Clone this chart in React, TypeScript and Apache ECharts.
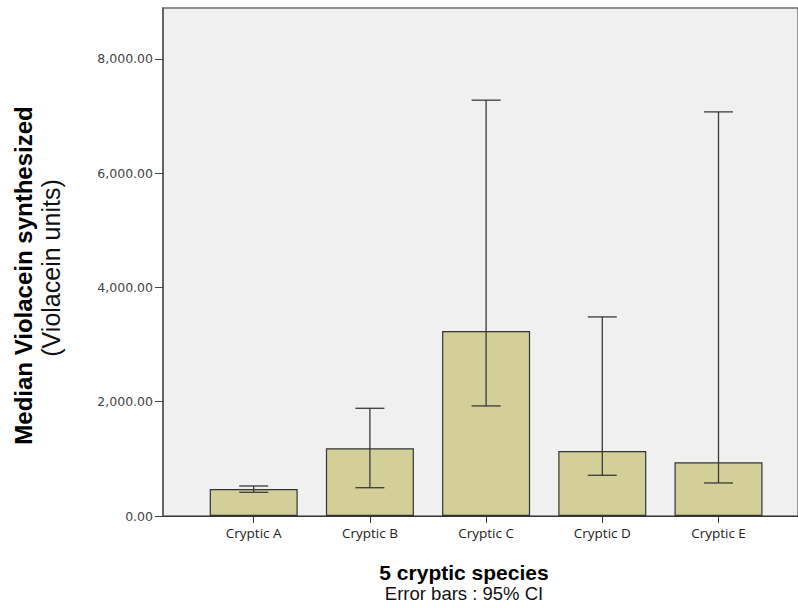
import React, { useEffect, useRef } from "react";
import * as echarts from "echarts";

const categories = ["Cryptic A", "Cryptic B", "Cryptic C", "Cryptic D", "Cryptic E"];
const medians = [473, 1185, 3238, 1138, 940];
const ciLow = [415, 495, 1926, 712, 578];
const ciHigh = [525, 1885, 7277, 3484, 7072];
const yTicks = [0, 2000, 4000, 6000, 8000];
const yMax = 8890;

export default function App() {
  const ref = useRef<HTMLDivElement>(null);
  useEffect(() => {
    if (!ref.current) return;
    const chart = echarts.init(ref.current, undefined, { renderer: "svg" });
    const errData = categories.map((_, i) => [i, ciLow[i], ciHigh[i]]);
    const fmt = (v: number) =>
      v.toLocaleString("en-US", { minimumFractionDigits: 2, maximumFractionDigits: 2 });
    chart.setOption({
      animation: false,
      backgroundColor: "#ffffff",
      grid: [
        {
          left: 163, top: 8, right: -3, bottom: 92,
          show: true, backgroundColor: "#f0f0f0", borderColor: "#707070", borderWidth: 1.5,
        },
        { left: 195.6, top: 8, right: 21.4, bottom: 92 },
      ],
      xAxis: [
        {
          gridIndex: 0, type: "value", min: 0, max: 1,
          axisLine: { show: true, lineStyle: { color: "#333", width: 1.2 } },
          axisTick: { show: false }, axisLabel: { show: false }, splitLine: { show: false },
        },
        {
          gridIndex: 1, type: "category", data: categories,
          axisLine: { show: false },
          axisTick: { show: true, alignWithLabel: true, length: 7, lineStyle: { color: "#333" } },
          axisLabel: { margin: 10, fontFamily: "Open Sans", fontSize: 13.5, color: "#222" },
        },
      ],
      yAxis: [
        {
          gridIndex: 0, type: "value", min: 0, max: yMax, interval: 2000,
          axisLine: { show: true, lineStyle: { color: "#555", width: 1.5 } },
          axisTick: {
            show: true, length: 8, lineStyle: { color: "#444" },
            customValues: yTicks,
          },
          axisLabel: {
            margin: 10, fontFamily: "DejaVu Sans", fontSize: 12.5, color: "#444",
            formatter: (v: number) => fmt(v),
            customValues: yTicks,
          },
          splitLine: { show: false },
        },
        {
          gridIndex: 1, type: "value", min: 0, max: yMax, show: false,
          splitLine: { show: false },
        },
      ],
      series: [
        {
          type: "bar", xAxisIndex: 1, yAxisIndex: 1, data: medians, barWidth: 88,
          itemStyle: { color: "#d3cf98", borderColor: "#333", borderWidth: 1.2 },
        },
        {
          type: "custom", xAxisIndex: 1, yAxisIndex: 1, data: errData,
          encode: { x: 0, y: [1, 2] }, z: 5,
          renderItem: (params: any, api: any) => {
            const i = api.value(0);
            const lo = api.coord([i, api.value(1)]);
            const hi = api.coord([i, api.value(2)]);
            const hw = 14.5;
            const style = { stroke: "#3a3a3a", lineWidth: 1.3 };
            return {
              type: "group",
              children: [
                { type: "line", shape: { x1: hi[0], y1: hi[1], x2: lo[0], y2: lo[1] }, style },
                { type: "line", shape: { x1: hi[0] - hw, y1: hi[1], x2: hi[0] + hw, y2: hi[1] }, style },
                { type: "line", shape: { x1: lo[0] - hw, y1: lo[1], x2: lo[0] + hw, y2: lo[1] }, style },
              ],
            };
          },
        },
      ],
      graphic: [
        {
          type: "text", x: 23, y: 275.5, rotation: Math.PI / 2,
          style: {
            text: "Median Violacein synthesized", fill: "#000",
            font: 'bold 24px "Liberation Sans"', align: "center", verticalAlign: "middle",
          },
        },
        {
          type: "text", x: 51, y: 268, rotation: Math.PI / 2,
          style: {
            text: "(Violacein units)", fill: "#111",
            font: '25px "Liberation Sans"', align: "center", verticalAlign: "middle",
          },
        },
        {
          type: "text", x: 464, y: 572,
          style: {
            text: "5 cryptic species", fill: "#000",
            font: 'bold 21px "Liberation Sans"', align: "center", verticalAlign: "middle",
          },
        },
        {
          type: "text", x: 464, y: 593,
          style: {
            text: "Error bars : 95% CI", fill: "#111",
            font: '18.5px "Liberation Sans"', align: "center", verticalAlign: "middle",
          },
        },
      ],
    });
    return () => chart.dispose();
  }, []);
  return <div ref={ref} style={{ width: 798, height: 608, position: "absolute", left: 0, top: 0 }} />;
}
